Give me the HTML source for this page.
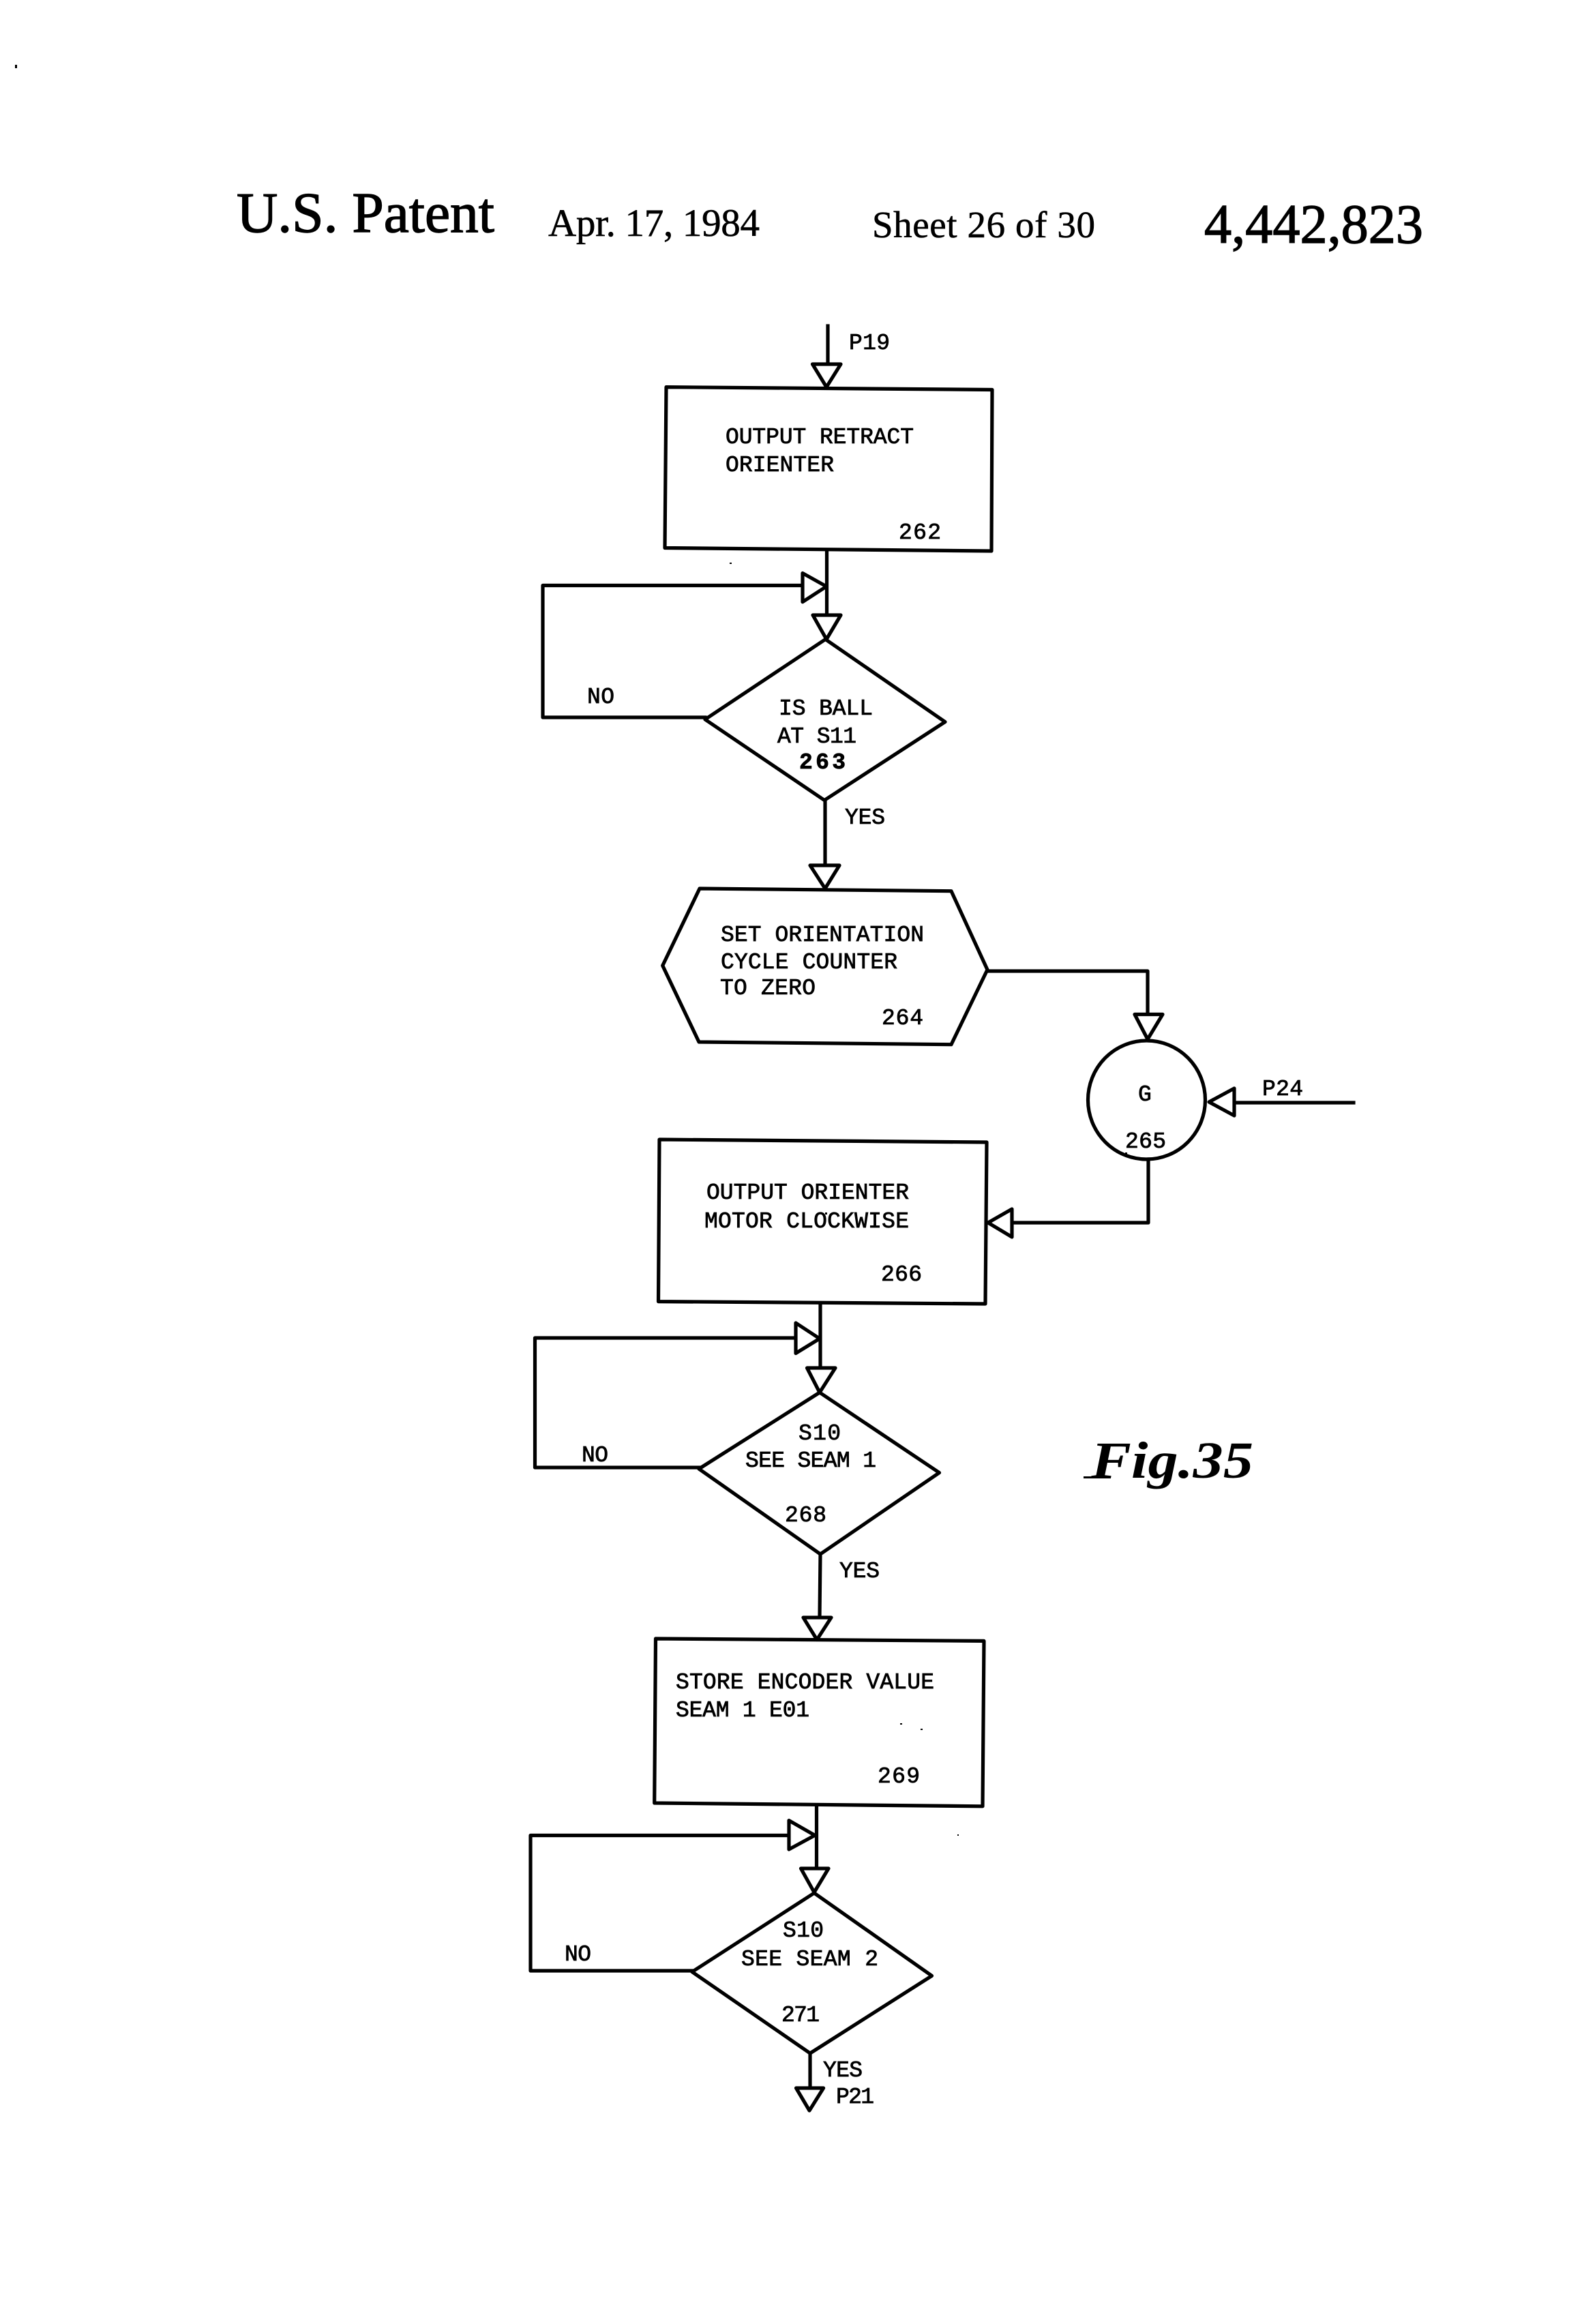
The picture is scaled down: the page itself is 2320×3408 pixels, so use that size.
<!DOCTYPE html>
<html>
<head>
<meta charset="utf-8">
<style>
html,body{margin:0;padding:0;background:#fff;width:2320px;height:3408px;overflow:hidden}
svg{display:block}
.m{font-family:"Liberation Mono",monospace;font-size:33px;fill:#000;stroke:#000;stroke-width:.8px}
.s{font-family:"Liberation Serif",serif;fill:#000}
.l{fill:none;stroke:#000;stroke-width:5.2;stroke-linejoin:round;stroke-linecap:square}
.a{fill:#fff;stroke:#000;stroke-width:5.2;stroke-linejoin:round}
</style>
</head>
<body>
<svg xmlns="http://www.w3.org/2000/svg" width="2320" height="3408" viewBox="0 0 2320 3408">
<rect width="2320" height="3408" fill="#fff"/>

<!-- Header -->
<text class="s" x="347" y="340" font-size="84" textLength="378" lengthAdjust="spacingAndGlyphs" stroke="#000" stroke-width="1.4">U.S. Patent</text>
<text class="s" x="804" y="346" font-size="57" textLength="310" lengthAdjust="spacing" stroke="#000" stroke-width=".6">Apr. 17, 1984</text>
<text class="s" x="1279" y="348" font-size="55" textLength="327" lengthAdjust="spacing" stroke="#000" stroke-width=".6">Sheet 26 of 30</text>
<text class="s" x="1766" y="356" font-size="82" textLength="321" lengthAdjust="spacingAndGlyphs" stroke="#000" stroke-width="1.4">4,442,823</text>

<!-- Connectors -->
<path class="l" d="M1214 478V532"/>
<path class="l" d="M1212.5 808V900"/>
<path class="l" d="M1177 858.5H796V1052H1034"/>
<path class="l" d="M1210 1173.5V1268"/>
<path class="l" d="M1448 1424H1683V1486"/>
<path class="l" d="M1684 1700V1793H1485"/>
<path class="l" d="M1810 1617H1985"/>
<path class="l" d="M1203 1912V2004"/>
<path class="l" d="M1167 1962H784.5V2152H1025"/>
<path class="l" d="M1203 2279L1202 2370"/>
<path class="l" d="M1197.5 2648V2737"/>
<path class="l" d="M1158 2691.5H778V2890H1015"/>
<path class="l" d="M1188 3011V3061"/>

<!-- Box 262 -->
<path class="l" d="M977 567.6L1455 571.5L1454 808L975 803.5Z"/>
<!-- Diamond 263 -->
<path class="l" d="M1210.5 937.5L1386 1058.6L1209 1173.5L1034 1055Z"/>
<!-- Hexagon 264 -->
<path class="l" d="M1026 1303L1395 1306.7L1448 1422L1395 1531.7L1025 1528L971.7 1416Z"/>
<!-- Circle 265 -->
<ellipse class="l" cx="1681.5" cy="1613" rx="86" ry="87"/>
<!-- Box 266 -->
<path class="l" d="M967 1671L1447 1675L1445 1912L965.5 1908.6Z"/>
<!-- Diamond 268 -->
<path class="l" d="M1202 2042L1377.5 2159.6L1203 2279L1025 2154Z"/>
<!-- Box 269 -->
<path class="l" d="M961.5 2403L1443 2406.4L1441 2648.8L959.7 2644Z"/>
<!-- Diamond 271 -->
<path class="l" d="M1194 2776L1366.5 2897.4L1188 3011L1015 2891.6Z"/>

<!-- Arrowheads -->
<polygon class="a" points="1191.5,534 1233,534 1212,567.6"/>
<polygon class="a" points="1177,840.5 1177,882.7 1212,860"/>
<polygon class="a" points="1192,902 1233,902 1212,937.5"/>
<polygon class="a" points="1188,1269 1231,1269 1210,1303"/>
<polygon class="a" points="1664,1487.5 1705,1487.5 1683,1524"/>
<polygon class="a" points="1810,1596 1810,1636 1773,1616"/>
<polygon class="a" points="1484,1773 1484,1814 1449,1793"/>
<polygon class="a" points="1167,1940 1167,1984.5 1202,1963"/>
<polygon class="a" points="1183.5,2006 1225,2006 1202,2042"/>
<polygon class="a" points="1178,2372 1219,2372 1198,2404.5"/>
<polygon class="a" points="1157,2669.6 1157,2712 1195,2691.4"/>
<polygon class="a" points="1174.5,2740 1215,2740 1194,2775"/>
<polygon class="a" points="1167.5,3062 1207.6,3062 1187,3095"/>

<!-- Labels -->
<text class="m" x="1245" y="512" textLength="60">P19</text>
<text class="m" x="1064" y="650" textLength="276">OUTPUT RETRACT</text>
<text class="m" x="1064" y="691" textLength="159">ORIENTER</text>
<text class="m" x="1318" y="790" textLength="62">262</text>

<text class="m" x="861" y="1031" textLength="40">NO</text>
<text class="m" x="1142" y="1048" textLength="138">IS BALL</text>
<text class="m" x="1140" y="1089" textLength="116">AT S11</text>
<text class="m" x="1172" y="1127" textLength="68" font-weight="bold">263</text>
<text class="m" x="1239" y="1208" textLength="59">YES</text>

<text class="m" x="1057" y="1380" textLength="298">SET ORIENTATION</text>
<text class="m" x="1057" y="1420" textLength="259">CYCLE COUNTER</text>
<text class="m" x="1056" y="1458" textLength="140">TO ZERO</text>
<text class="m" x="1293" y="1502" textLength="61">264</text>

<text class="m" x="1669" y="1614" textLength="20">G</text>
<text class="m" x="1650" y="1683" textLength="60">265</text>
<text class="m" x="1851" y="1606" textLength="60">P24</text>

<text class="m" x="1036" y="1758" textLength="297">OUTPUT ORIENTER</text>
<text class="m" x="1033" y="1800" textLength="300">MOTOR CLOCKWISE</text>
<text class="m" x="1292" y="1878" textLength="60">266</text>

<text class="m" x="1171" y="2111" textLength="62">S10</text>
<text class="m" x="1093" y="2151" textLength="192">SEE SEAM 1</text>
<text class="m" x="853" y="2143" textLength="39">NO</text>
<text class="m" x="1151" y="2231" textLength="61">268</text>
<text class="m" x="1231" y="2313" textLength="59">YES</text>

<text class="m" x="991" y="2476" textLength="379">STORE ENCODER VALUE</text>
<text class="m" x="991" y="2517" textLength="196">SEAM 1 E01</text>
<text class="m" x="1287" y="2614" textLength="62">269</text>

<text class="m" x="1148" y="2840" textLength="60">S10</text>
<text class="m" x="1087" y="2882" textLength="201">SEE SEAM 2</text>
<text class="m" x="828" y="2875" textLength="39">NO</text>
<text class="m" x="1146" y="2964" textLength="56">271</text>
<text class="m" x="1207" y="3045" textLength="58">YES</text>
<text class="m" x="1226" y="3084" textLength="56">P21</text>

<!-- Figure caption -->
<text x="1600" y="2167" font-family="'Liberation Serif',serif" font-style="italic" font-weight="bold" font-size="76" textLength="238" lengthAdjust="spacingAndGlyphs" fill="#000">Fig.35</text>
<rect x="1589" y="2165" width="40" height="3" fill="#000"/>

<!-- Specks -->
<rect x="22" y="95" width="3" height="5" fill="#000"/>
<rect x="1070" y="825" width="3" height="2" fill="#000"/>
<rect x="1404" y="2690" width="2" height="2" fill="#000"/>
<rect x="1650" y="1690" width="3" height="2" fill="#000"/>
<rect x="1210" y="1778" width="3" height="3" fill="#000"/>
<rect x="1320" y="2527" width="3" height="2" fill="#000"/>
<rect x="1350" y="2535" width="3" height="2" fill="#000"/>
</svg>
</body>
</html>
